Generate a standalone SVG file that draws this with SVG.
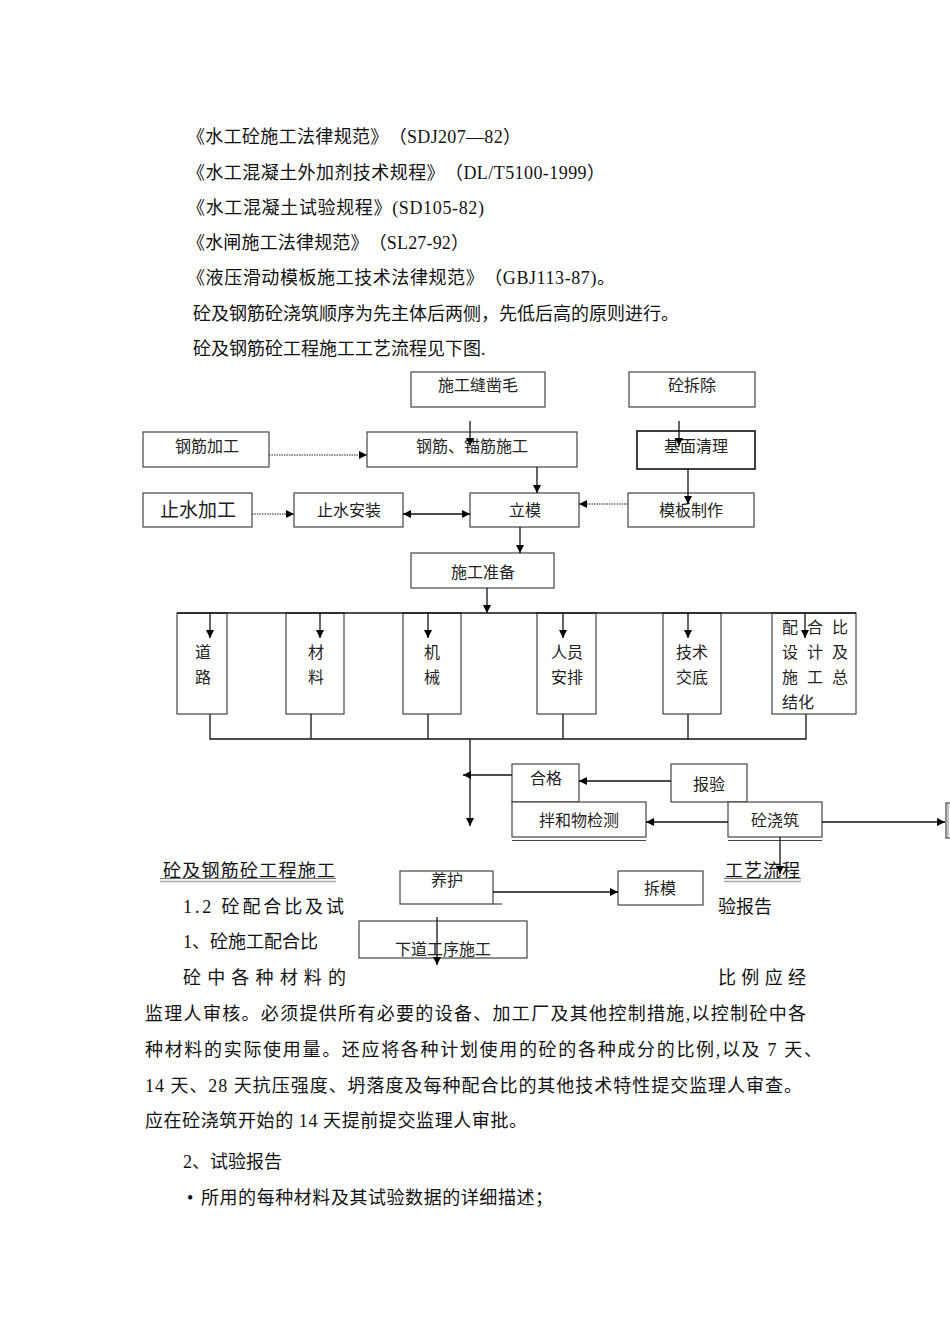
<svg xmlns="http://www.w3.org/2000/svg" width="950" height="1344" viewBox="0 0 950 1344">
<style>
text{text-spacing-trim:space-all}
.t{font-family:"Liberation Serif","Noto Sans CJK SC",serif;font-size:18px;fill:#111;dominant-baseline:central}
.b{font-family:"Liberation Serif","Noto Sans CJK SC",serif;font-size:16px;fill:#222;dominant-baseline:central;text-anchor:middle}
.box{fill:#fff;stroke:#444;stroke-width:1.2}
.ln{stroke:#111;stroke-width:1.3;fill:none}
.dot{stroke:#222;stroke-width:1.2;stroke-dasharray:1.5 1;fill:none}
</style>
<defs>
<marker id="ah" viewBox="0 0 10 10" refX="10" refY="5" markerWidth="8" markerHeight="8" markerUnits="userSpaceOnUse" orient="auto-start-reverse"><path d="M0,0 L10,5 L0,10 z" fill="#000"/></marker>
</defs>
<rect width="950" height="1344" fill="#fff"/>

<g id="body-top">
<text class="t" x="187" y="137" textLength="334" lengthAdjust="spacing">《水工砼施工法律规范》（SDJ207—82）</text>
<text class="t" x="187" y="173" textLength="418" lengthAdjust="spacing">《水工混凝土外加剂技术规程》（DL/T5100-1999）</text>
<text class="t" x="187" y="208" textLength="297" lengthAdjust="spacing">《水工混凝土试验规程》(SD105-82)</text>
<text class="t" x="187" y="243" textLength="282" lengthAdjust="spacing">《水闸施工法律规范》（SL27-92）</text>
<text class="t" x="187" y="278" textLength="428" lengthAdjust="spacing">《液压滑动模板施工技术法律规范》（GBJ113-87)。</text>
<text class="t" x="193" y="314">砼及钢筋砼浇筑顺序为先主体后两侧，先低后高的原则进行。</text>
<text class="t" x="193" y="349">砼及钢筋砼工程施工工艺流程见下图.</text>
</g>

<g id="n-fengzaomao"><rect class="box" x="411" y="372" width="134" height="35"/><text class="b" x="478" y="385">施工缝凿毛</text></g>
<g id="n-chaichu"><rect class="box" x="629" y="372" width="126" height="35"/><text class="b" x="692" y="385">砼拆除</text></g>
<g id="n-gangjinjiagong"><rect class="box" x="143" y="432" width="126" height="35"/><text class="b" x="207" y="446">钢筋加工</text></g>
<g id="n-maojin"><rect class="box" x="367" y="432" width="210" height="35"/><text class="b" x="472" y="446">钢筋、锚筋施工</text></g>
<g id="n-jimian"><rect class="box" x="637" y="431" width="118" height="38" style="stroke:#111;stroke-width:1.6"/><text class="b" x="696" y="446">基面清理</text></g>
<g id="n-zhishuijiagong"><rect class="box" x="143" y="493" width="109" height="34"/><text class="b" x="198" y="510" style="font-size:19px">止水加工</text></g>
<g id="n-zhishuianzhuang"><rect class="box" x="294" y="493" width="109" height="34"/><text class="b" x="349" y="510">止水安装</text></g>
<g id="n-limo"><rect class="box" x="470" y="493" width="109" height="34"/><text class="b" x="525" y="510">立模</text></g>
<g id="n-mubanzhizuo"><rect class="box" x="628" y="493" width="126" height="34"/><text class="b" x="691" y="510">模板制作</text></g>
<g id="n-zhunbei"><rect class="box" x="411" y="553" width="143" height="35"/><text class="b" x="483" y="572">施工准备</text></g>

<g id="n-daolu"><rect class="box" x="177" y="613" width="50" height="101"/><text class="b" x="203" y="652">道</text><text class="b" x="203" y="677">路</text></g>
<g id="n-cailiao"><rect class="box" x="286" y="613" width="58" height="101"/><text class="b" x="316" y="652">材</text><text class="b" x="316" y="677">料</text></g>
<g id="n-jixie"><rect class="box" x="403" y="613" width="58" height="101"/><text class="b" x="432" y="652">机</text><text class="b" x="432" y="677">械</text></g>
<g id="n-renyuan"><rect class="box" x="537" y="613" width="59" height="101"/><text class="b" x="567" y="652">人员</text><text class="b" x="567" y="677">安排</text></g>
<g id="n-jishu"><rect class="box" x="663" y="613" width="58" height="101"/><text class="b" x="692" y="652">技术</text><text class="b" x="692" y="677">交底</text></g>
<g id="n-peihebi"><rect class="box" x="772" y="613" width="84" height="101"/>
<text class="b" x="782" y="627" style="text-anchor:start" textLength="66" lengthAdjust="spacing">配合比</text>
<text class="b" x="782" y="652" style="text-anchor:start" textLength="66" lengthAdjust="spacing">设计及</text>
<text class="b" x="782" y="677" style="text-anchor:start" textLength="66" lengthAdjust="spacing">施工总</text>
<text class="b" x="782" y="702" style="text-anchor:start">结化</text></g>

<g id="n-hege"><rect class="box" x="512" y="764" width="67" height="38"/><text class="b" x="546" y="778">合格</text></g>
<g id="n-baoyan"><rect class="box" x="671" y="764" width="76" height="38"/><text class="b" x="709" y="784">报验</text></g>
<g id="n-banhewu"><rect class="box" x="512" y="802" width="134" height="35"/><line x1="512" y1="840.5" x2="646" y2="840.5" stroke="#444" stroke-width="1"/><text class="b" x="579" y="820">拌和物检测</text></g>
<g id="n-jiaozhu"><rect class="box" x="728" y="802" width="94" height="35"/><line x1="728" y1="840.5" x2="822" y2="840.5" stroke="#444" stroke-width="1"/><text class="b" x="775" y="820">砼浇筑</text></g>
<g id="n-edge"><rect class="box" x="946" y="803" width="12" height="35"/><line x1="948" y1="803" x2="948" y2="838" stroke="#888" stroke-width="1"/></g>
<g id="n-yanghu"><rect class="box" x="400" y="871" width="93" height="33"/><line x1="493" y1="904" x2="502" y2="904" stroke="#444" stroke-width="1.2"/><text class="b" x="447" y="880">养护</text></g>
<g id="n-chaimo"><rect class="box" x="618" y="871" width="85" height="34"/><text class="b" x="660" y="888">拆模</text></g>
<g id="n-xiadao"><rect class="box" x="359" y="921" width="168" height="37"/><text class="b" x="443" y="949">下道工序施工</text></g>

<g id="caption">
<text class="t" x="163" y="871" textLength="172" lengthAdjust="spacing">砼及钢筋砼工程施工</text>
<line x1="160" y1="878.5" x2="336" y2="878.5" stroke="#777" stroke-width="1"/>
<line x1="160" y1="881.5" x2="336" y2="881.5" stroke="#aaa" stroke-width="1.5"/>
<text class="t" x="725" y="871" textLength="75" lengthAdjust="spacing">工艺流程</text>
<line x1="724" y1="878.5" x2="801" y2="878.5" stroke="#777" stroke-width="1"/>
<line x1="724" y1="881.5" x2="801" y2="881.5" stroke="#aaa" stroke-width="1.5"/>
</g>

<g id="body-bottom">
<text class="t" x="183" y="907" textLength="161" lengthAdjust="spacing">1.2 砼配合比及试</text>
<text class="t" x="718" y="907">验报告</text>
<text class="t" x="183" y="942">1、砼施工配合比</text>
<text class="t" x="183" y="978" textLength="163" lengthAdjust="spacing">砼中各种材料的</text>
<text class="t" x="718" y="978" textLength="88" lengthAdjust="spacing">比例应经</text>
<text class="t" x="145" y="1014" textLength="661" lengthAdjust="spacing">监理人审核。必须提供所有必要的设备、加工厂及其他控制措施,以控制砼中各</text>
<text class="t" x="145" y="1050" textLength="677" lengthAdjust="spacing">种材料的实际使用量。还应将各种计划使用的砼的各种成分的比例,以及 7 天、</text>
<text class="t" x="145" y="1086" textLength="657" lengthAdjust="spacing">14 天、28 天抗压强度、坍落度及每种配合比的其他技术特性提交监理人审查。</text>
<text class="t" x="145" y="1121" textLength="382" lengthAdjust="spacing">应在砼浇筑开始的 14 天提前提交监理人审批。</text>
<text class="t" x="183" y="1162">2、试验报告</text>
<text class="t" x="187" y="1198">•</text>
<text class="t" x="201" y="1198" textLength="352" lengthAdjust="spacing">所用的每种材料及其试验数据的详细描述；</text>
</g>

<g id="connectors">
<line class="ln" x1="470" y1="421" x2="470" y2="446" marker-end="url(#ah)"/>
<line class="ln" x1="679" y1="421" x2="679" y2="446" marker-end="url(#ah)"/>
<line class="dot" x1="269" y1="455" x2="367" y2="455" marker-end="url(#ah)"/>
<line class="ln" x1="537" y1="467" x2="537" y2="493" marker-end="url(#ah)"/>
<line class="ln" x1="688" y1="469" x2="688" y2="504" marker-end="url(#ah)"/>
<line class="dot" x1="252" y1="514" x2="294" y2="514" marker-end="url(#ah)"/>
<line class="ln" x1="403" y1="514" x2="470" y2="514" marker-start="url(#ah)" marker-end="url(#ah)"/>
<line class="dot" x1="628" y1="504" x2="579" y2="504" marker-end="url(#ah)"/>
<line class="ln" x1="520" y1="527" x2="520" y2="553" marker-end="url(#ah)"/>
<line class="ln" x1="487" y1="588" x2="487" y2="613" marker-end="url(#ah)"/>
<line class="ln" x1="177" y1="613" x2="856" y2="613"/>
<line class="ln" x1="210" y1="613" x2="210" y2="638" marker-end="url(#ah)"/>
<line class="ln" x1="320" y1="613" x2="320" y2="638" marker-end="url(#ah)"/>
<line class="ln" x1="428" y1="613" x2="428" y2="638" marker-end="url(#ah)"/>
<line class="ln" x1="563" y1="613" x2="563" y2="638" marker-end="url(#ah)"/>
<line class="ln" x1="688" y1="613" x2="688" y2="638" marker-end="url(#ah)"/>
<line class="ln" x1="805" y1="613" x2="805" y2="638" marker-end="url(#ah)"/>
<path class="ln" d="M210,714 V739 H806 V714 M311,714 V739 M428,714 V739 M563,714 V739 M688,714 V739"/>
<line class="ln" x1="470" y1="739" x2="470" y2="826" marker-end="url(#ah)"/>
<line class="ln" x1="512" y1="775" x2="463" y2="775" marker-end="url(#ah)"/>
<line class="ln" x1="671" y1="781" x2="579" y2="781" marker-end="url(#ah)"/>
<line class="ln" x1="728" y1="822" x2="646" y2="822" marker-end="url(#ah)"/>
<line class="ln" x1="822" y1="822" x2="945" y2="822" marker-end="url(#ah)"/>
<line class="ln" x1="780" y1="837" x2="780" y2="874" marker-end="url(#ah)"/>
<line class="ln" x1="493" y1="892" x2="618" y2="892" marker-end="url(#ah)"/>
<line class="ln" x1="437" y1="917" x2="437" y2="965" marker-end="url(#ah)"/>
</g>
</svg>
